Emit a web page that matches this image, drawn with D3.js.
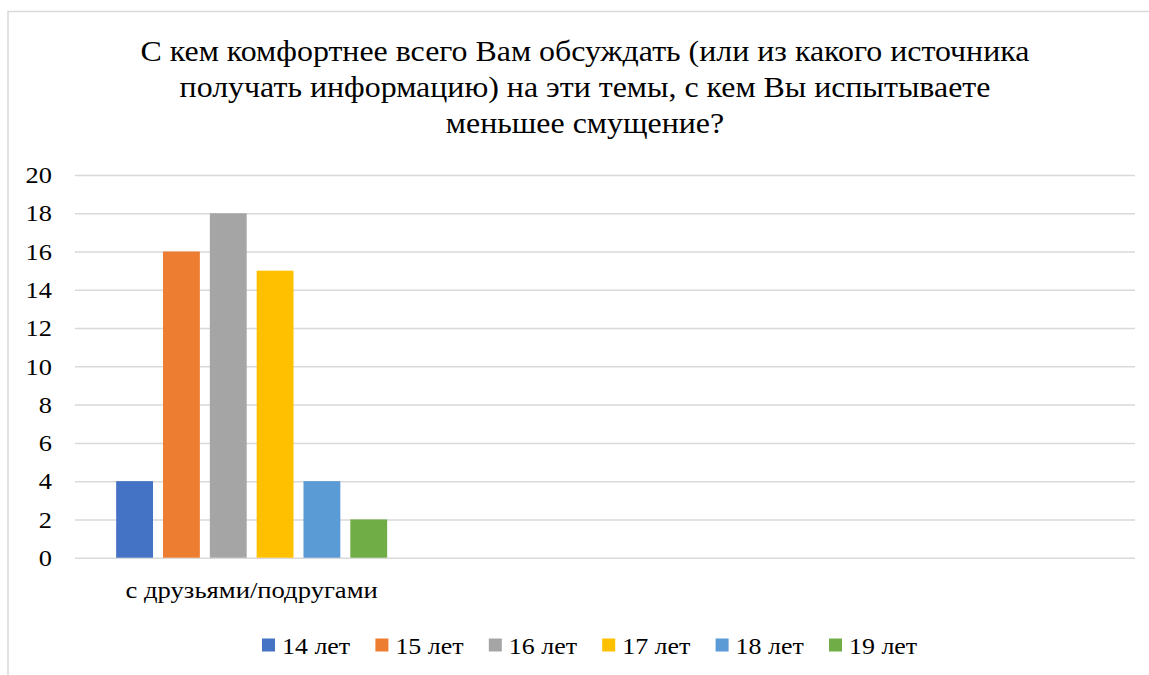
<!DOCTYPE html>
<html>
<head>
<meta charset="utf-8">
<script src="https://cdn.jsdelivr.net/npm/d3@7"></script>
<style>
  html, body { margin: 0; padding: 0; background: #fff; }
  svg { display: block; }
</style>
</head>
<body>
<svg id="chart" width="1149" height="675"></svg>
<script>
const FONT = "'Liberation Serif', Tinos, 'Times New Roman', Times, 'DejaVu Serif', serif";
// ---- data ----
const titleLines = [
  "С кем комфортнее всего Вам обсуждать (или из какого источника",
  "получать информацию) на эти темы, с кем Вы испытываете",
  "меньшее смущение?"
];
const categories = ["с друзьями/подругами", "", " "];
const seriesNames = ["14 лет", "15 лет", "16 лет", "17 лет", "18 лет", "19 лет"];
const seriesValues = [
  [4, null, null],
  [16, null, null],
  [18, null, null],
  [15, null, null],
  [4, null, null],
  [2, null, null]
];
const colors = ["#4472C4", "#ED7D31", "#A5A5A5", "#FFC000", "#5B9BD5", "#70AD47"];
const yTicks = [0, 2, 4, 6, 8, 10, 12, 14, 16, 18, 20];

// horizontal stretch helper (serif face unavailable; widen sans text to match)
function stretch(sel, k) {
  sel.each(function () {
    const len = this.getComputedTextLength();
    if (len > 0) {
      d3.select(this).attr("textLength", len * k).attr("lengthAdjust", "spacingAndGlyphs");
    }
  });
}

// ---- layout ----
const svg = d3.select("#chart");
const plot = { left: 75, right: 1135, top: 175, bottom: 557.7 };

svg.append("rect")
  .attr("x", 8).attr("y", 11.5)
  .attr("width", 1160).attr("height", 700)
  .attr("fill", "none").attr("stroke", "#d9d9d9").attr("stroke-width", 1.5);

const title = svg.append("g").selectAll("text").data(titleLines).join("text")
  .attr("x", 585)
  .attr("y", (d, i) => 61 + i * 36)
  .attr("text-anchor", "middle")
  .attr("font-family", FONT)
  .attr("font-size", 29)
  .text(d => d);
stretch(title, 1.1);

const y = d3.scaleLinear().domain([0, 20]).range([plot.bottom, plot.top]);
const x0 = d3.scaleBand().domain(categories).range([plot.left, plot.right])
  .paddingInner(0.233).paddingOuter(0.1165);
const x1 = d3.scaleBand().domain(d3.range(seriesNames.length)).range([0, x0.bandwidth()])
  .paddingInner(0.213).paddingOuter(0);

const yAxis = d3.axisLeft(y).tickValues(yTicks).tickSize(-(plot.right - plot.left)).tickPadding(23);
const gy = svg.append("g").attr("transform", `translate(${plot.left},0)`).call(yAxis)
  .attr("font-family", FONT).attr("font-size", 24);
gy.select(".domain").remove();
gy.selectAll(".tick line").attr("stroke", "#d9d9d9").attr("stroke-width", 1.5);
gy.selectAll(".tick text").attr("fill", "#000");
stretch(gy.selectAll(".tick text"), 1.1);

const data = [];
seriesNames.forEach((s, si) => {
  categories.forEach((c, ci) => {
    const v = seriesValues[si][ci];
    if (v != null) data.push({ si, c, v });
  });
});
svg.append("g").selectAll("rect").data(data).join("rect")
  .attr("x", d => x0(d.c) + x1(d.si))
  .attr("width", x1.bandwidth())
  .attr("y", d => y(d.v))
  .attr("height", d => y(0) - y(d.v))
  .attr("fill", d => colors[d.si]);

const xAxis = d3.axisBottom(x0).tickSize(0).tickPadding(0);
const gx = svg.append("g").attr("transform", `translate(0,${plot.bottom})`).call(xAxis)
  .attr("font-family", FONT).attr("font-size", 24);
gx.select(".domain").remove();
gx.selectAll(".tick text").attr("dy", null).attr("y", 40).attr("fill", "#000");
stretch(gx.selectAll(".tick text"), 1.11);

const legendX = d3.scalePoint().domain(seriesNames).range([262, 829]);
const lg = svg.append("g").attr("font-family", FONT).attr("font-size", 24)
  .selectAll("g").data(seriesNames).join("g")
  .attr("transform", d => `translate(${legendX(d)},0)`);
lg.append("rect").attr("x", 0).attr("y", 638.5).attr("width", 13).attr("height", 13)
  .attr("fill", (d, i) => colors[i]);
const lt = lg.append("text").attr("x", 20).attr("y", 654).text(d => d);
stretch(lt, 1.08);
</script>
</body>
</html>
